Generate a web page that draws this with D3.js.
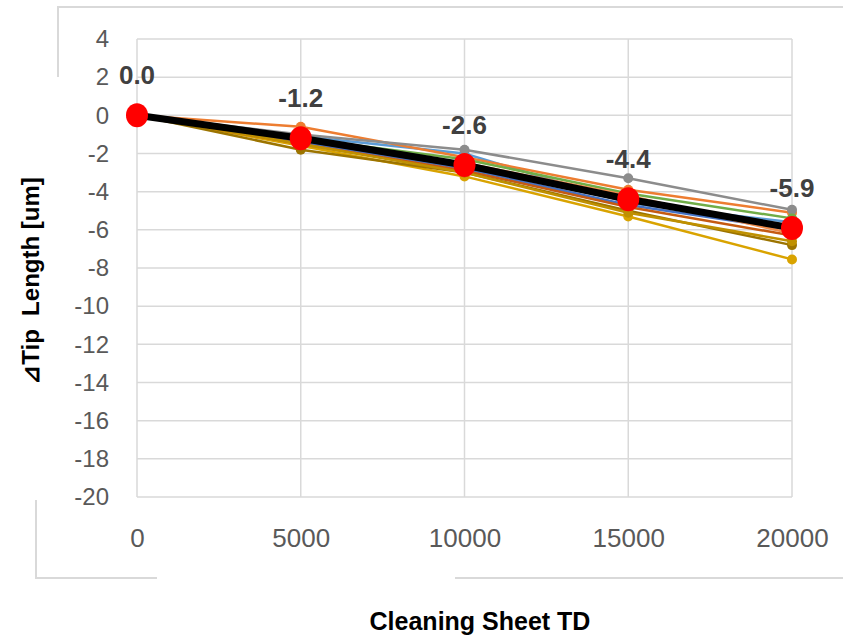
<!DOCTYPE html>
<html>
<head>
<meta charset="utf-8">
<script src="https://cdn.jsdelivr.net/npm/d3@7"></script>
<style>
  html, body { margin: 0; padding: 0; background: #fff; }
  svg { display: block; }
</style>
</head>
<body>
<svg id="chart" width="843" height="635"></svg>
<script>
// Cleaning sheet touchdowns (category axis)
const categories = [0, 5000, 10000, 15000, 20000];

// Individual probe tip-length changes [um]
const seriesNames = ["P1", "P2", "P3", "P4", "P5", "P6", "P7", "P8", "P9", "P10", "P11"];
const seriesColors = ["#5B9BD5", "#ED7D31", "#8C8C8C", "#D9A300", "#4472C4", "#70AD47",
                      "#2E5C8A", "#C55A11", "#9C7400", "#BF9000", "#F08C4A"];
const s1  = [0, -1.1, -2.0, -4.6, -5.6];
const s2  = [0, -0.6, -2.2, -3.9, -5.1];
const s3  = [0, -1.0, -1.8, -3.3, -4.95];
const s4  = [0, -1.6, -3.2, -5.3, -7.55];
const s5  = [0, -1.4, -2.8, -4.7, -6.0];
const s6  = [0, -1.2, -2.3, -4.1, -5.4];
const s7  = [0, -1.3, -2.7, -4.5, -5.8];
const s8  = [0, -1.5, -2.9, -4.8, -6.3];
const s9  = [0, -1.8, -3.0, -5.0, -6.8];
const s10 = [0, -1.5, -3.0, -5.1, -6.6];
const s11 = [0, -1.3, -2.5, -4.2, -6.2];
const seriesValues = [s1, s2, s3, s4, s5, s6, s7, s8, s9, s10, s11];

// Average trend with labelled values
const average = [0.0, -1.2, -2.6, -4.4, -5.9];

// Y axis ticks
const yTicks = [4, 2, 0, -2, -4, -6, -8, -10, -12, -14, -16, -18, -20];

const svg = d3.select("#chart");
const plot = { left: 137, right: 792, top: 39, bottom: 497 };

const x = d3.scalePoint().domain(categories).range([plot.left, plot.right]).padding(0);
const y = d3.scaleLinear().domain([-20, 4]).range([plot.bottom, plot.top]);

const font = "'Liberation Sans', Arial, sans-serif";
// plain hyphen-minus, as in spreadsheet number formats
const intFmt = d => String(d);
const oneDec = d => d.toFixed(1);

// Outer chart frame fragments
const frame = svg.append("g").attr("stroke", "#d9d9d9").attr("stroke-width", 2).attr("fill", "none");
frame.append("path").attr("d", "M58,77 V7 H843");
frame.append("path").attr("d", "M36,500 V578 H157");
frame.append("path").attr("d", "M455,578 H843");

// Gridlines
const grid = svg.append("g");
grid.selectAll("line.h").data(yTicks).join("line")
  .attr("x1", plot.left).attr("x2", plot.right)
  .attr("y1", d => y(d)).attr("y2", d => y(d))
  .attr("stroke", "#d9d9d9").attr("stroke-width", 1.5);
grid.selectAll("line.v").data(categories).join("line")
  .attr("x1", d => x(d)).attr("x2", d => x(d))
  .attr("y1", plot.top).attr("y2", plot.bottom)
  .attr("stroke", "#d9d9d9").attr("stroke-width", 1.5);

// Axes (labels only)
const yAxis = d3.axisLeft(y).tickValues(yTicks).tickSize(0).tickPadding(28).tickFormat(intFmt);
svg.append("g").attr("transform", `translate(${plot.left},0)`).call(yAxis)
  .call(g => g.select(".domain").remove())
  .selectAll("text").attr("font-family", font).attr("font-size", 24).attr("fill", "#595959");

const xAxis = d3.axisBottom(x).tickSize(0).tickPadding(32).tickFormat(intFmt);
svg.append("g").attr("transform", `translate(0,${plot.bottom})`).call(xAxis)
  .call(g => g.select(".domain").remove())
  .selectAll("text").attr("font-family", font).attr("font-size", 26).attr("fill", "#595959");

// Individual series
const line = d3.line().x((d, i) => x(categories[i])).y(d => y(d));
const series = svg.append("g");
seriesValues.forEach((vals, k) => {
  const g = series.append("g").attr("class", "series-" + seriesNames[k]);
  g.append("path").datum(vals).attr("d", line)
    .attr("fill", "none").attr("stroke", seriesColors[k]).attr("stroke-width", 2.5);
  g.selectAll("circle").data(vals).join("circle")
    .attr("cx", (d, i) => x(categories[i])).attr("cy", d => y(d)).attr("r", 5)
    .attr("fill", seriesColors[k]);
});

// Average line
svg.append("path").datum(average).attr("d", line)
  .attr("fill", "none").attr("stroke", "#000").attr("stroke-width", 7);
svg.append("g").selectAll("ellipse").data(average).join("ellipse")
  .attr("cx", (d, i) => x(categories[i])).attr("cy", d => y(d))
  .attr("rx", 11).attr("ry", 12).attr("fill", "#ff0000");

// Data labels
svg.append("g").selectAll("text").data(average).join("text")
  .attr("x", (d, i) => x(categories[i])).attr("y", d => y(d) - 31)
  .attr("text-anchor", "middle")
  .attr("font-family", font).attr("font-size", 26).attr("font-weight", "bold")
  .attr("fill", "#404040")
  .text(oneDec);

// Axis titles
svg.append("text")
  .attr("transform", "translate(39,281) rotate(-90)")
  .attr("text-anchor", "middle")
  .style("white-space", "pre")
  .attr("font-family", font).attr("font-size", 24).attr("font-weight", "bold").attr("fill", "#000")
  .text("⊿Tip  Length [um]");
svg.append("text")
  .attr("x", 480).attr("y", 630)
  .attr("text-anchor", "middle")
  .attr("font-family", font).attr("font-size", 25).attr("font-weight", "bold").attr("fill", "#000")
  .text("Cleaning Sheet TD");
</script>
</body>
</html>
